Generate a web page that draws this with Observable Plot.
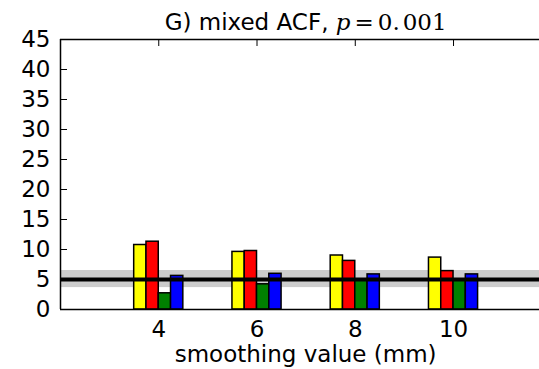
<!DOCTYPE html>
<html><head><meta charset="utf-8">
<script src="https://cdn.jsdelivr.net/npm/d3@7"></script>
<script src="https://cdn.jsdelivr.net/npm/@observablehq/plot@0.6"></script>
<style>body{margin:0;background:#fff} svg{display:block}</style>
</head><body><div id="chart"></div>
<script>
// ---- data ----
const smoothing = [4, 6, 8, 10];
const seriesNames = ["yellow", "red", "green", "blue"];
const seriesColors = ["#ffff00", "#ff0000", "#008000", "#0000ff"];
const yellowVals = [10.75, 9.6, 9.0, 8.65];
const redVals = [11.3, 9.75, 8.1, 6.4];
const greenVals = [2.7, 4.2, 4.9, 4.9];
const blueVals = [5.6, 5.95, 5.85, 5.85];
const xTicks = [4, 6, 8, 10];
const yTicks = [0, 5, 10, 15, 20, 25, 30, 35, 40, 45];
const refLine = 5;
const bandLow = 3.65, bandHigh = 6.5;
const titleText = "G) mixed ACF, ";
const xLabel = "smoothing value (mm)";

const seriesVals = [yellowVals, redVals, greenVals, blueVals];
const rows = [];
smoothing.forEach((s, j) => seriesNames.forEach((name, i) => rows.push({s, i, series: name, value: seriesVals[i][j]})));

const W = 0.25;
const xMin = 2, xMax = 11.75;
const pxX = 49.1, pxY = 5.99, tickLen = 7;

const chart = Plot.plot({
  width: 539, height: 369,
  marginLeft: 60, marginRight: 0, marginTop: 39, marginBottom: 60,
  style: {fontFamily: "DejaVu Sans", fontSize: "23px", background: "white", color: "black"},
  x: {domain: [xMin, xMax]},
  y: {domain: [0, 45]},
  color: {type: "identity"},
  marks: [
    Plot.rectY([{lo: bandLow, hi: bandHigh}], {x1: d => xMin, x2: d => xMax, y1: d => d.lo, y2: d => d.hi, fill: "#cccccc"}),
    Plot.ruleX(xTicks, {x: d => d, y1: d => 0, y2: d => tickLen / pxY, stroke: "black", strokeWidth: 1}),
    Plot.rectY(rows, {
      x1: d => d.s - 0.5 + d.i * W,
      x2: d => d.s - 0.5 + (d.i + 1) * W,
      y1: d => 0, y2: "value",
      fill: d => seriesColors[d.i],
      stroke: "black", strokeWidth: 1.5
    }),
    Plot.ruleY([refLine], {stroke: "black", strokeWidth: 4}),
    Plot.ruleX(xTicks, {x: d => d, y1: d => 45, y2: d => 45 - tickLen / pxY, stroke: "black", strokeWidth: 1}),
    Plot.ruleY(yTicks, {y: d => d, x1: d => xMin, x2: d => xMin + tickLen / pxX, stroke: "black", strokeWidth: 1}),
    Plot.ruleX([xMin], {stroke: "black", strokeWidth: 1.5}),
    Plot.ruleY([0, 45], {stroke: "black", strokeWidth: 1.5}),
    Plot.axisX({ticks: xTicks, tickSize: 0, tickPadding: 11, label: null, fontSize: 23}),
    Plot.axisY({ticks: yTicks, tickSize: 0, tickPadding: 10, label: null, fontSize: 23})
  ]
});

const svg = d3.select(chart);
const cx = chart.scale("x").apply(7);
const t = svg.append("text")
  .attr("x", cx).attr("y", 30)
  .attr("text-anchor", "middle")
  .attr("font-family", "DejaVu Sans").attr("font-size", 23).attr("fill", "black");
t.append("tspan").text(titleText);
t.append("tspan").attr("font-family", "DejaVu Serif").attr("font-style", "italic").text("p");
t.append("tspan").attr("font-family", "DejaVu Serif").attr("dx", 4).text("=");
t.append("tspan").attr("font-family", "DejaVu Serif").attr("dx", 4).text("0.");
t.append("tspan").attr("font-family", "DejaVu Serif").attr("dx", 3).text("001");

svg.append("text")
  .attr("x", cx).attr("y", 362)
  .attr("text-anchor", "middle")
  .attr("font-family", "DejaVu Sans").attr("font-size", 23).attr("fill", "black")
  .text(xLabel);

document.getElementById("chart").appendChild(chart);
</script>
</body></html>
